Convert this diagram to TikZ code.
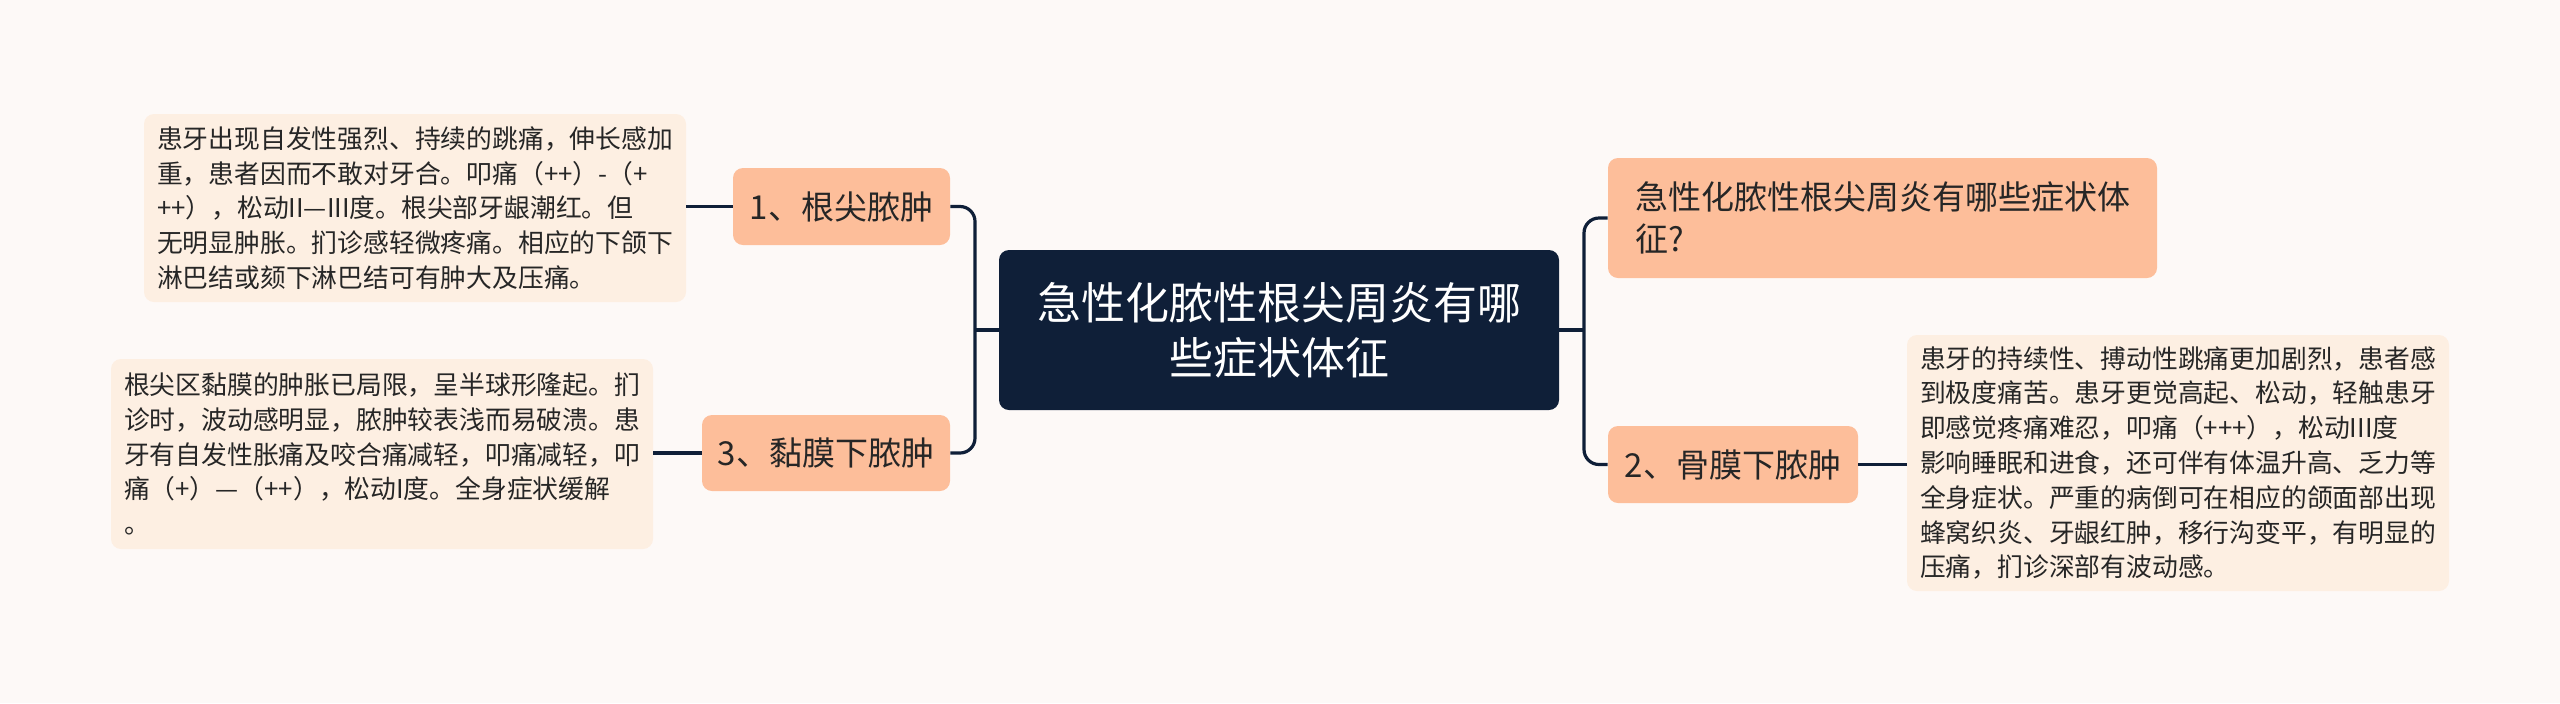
\documentclass[tikz,border=0pt]{standalone}
\usepackage{fontspec}
\setmainfont{Noto Sans CJK SC}
\definecolor{bg}{HTML}{FDF9F7}
\definecolor{navy}{HTML}{0F1F38}
\definecolor{peach}{HTML}{FDBE9A}
\definecolor{leaf}{HTML}{FDEFE2}
\definecolor{txt}{HTML}{262626}
\begin{document}
\begin{tikzpicture}[x=0.5pt,y=-0.5pt,
  rootbox/.style={fill=navy, rounded corners=5pt, text=white, align=center, inner sep=0pt,
    font=\fontsize{22}{27.5}\selectfont},
  branchbox/.style={fill=peach, rounded corners=5pt, text=txt, align=center, inner sep=0pt,
    font=\fontsize{16.5}{21}\selectfont},
  leafbox/.style={fill=leaf, rounded corners=5pt, text=txt, align=left, inner sep=0pt,
    font=\fontsize{12.9}{17.4}\selectfont},
  link/.style={draw=navy, line width=1.6pt},
  elbowlink/.style={link, rounded corners=7.5pt}]
\useasboundingbox (0,0) rectangle (2560,703);
\fill[bg] (0,0) rectangle (2560,703);

\node[rootbox, minimum width=280pt, minimum height=80pt] (root) at (1279,330)
  {急性化脓性根尖周炎有哪\\些症状体征};

\node[branchbox, minimum width=108.5pt, minimum height=38.5pt] (n1) at (841.5,206.5) {1、根尖脓肿};
\node[branchbox, minimum width=124pt, minimum height=38pt] (n3) at (826,453) {3、黏膜下脓肿};
\node[branchbox, align=left, minimum width=274.5pt, minimum height=60pt] (q) at (1882.5,218)
  {急性化脓性根尖周炎有哪些症状体\\征?};
\node[branchbox, minimum width=125pt, minimum height=38.5pt] (n2) at (1733,464.5) {2、骨膜下脓肿};

\node[leafbox, minimum width=271pt, minimum height=94pt] (l1) at (415,208)
  {患牙出现自发性强烈、持续的跳痛，伸长感加\\
   重，患者因而不敢对牙合。叩痛（++）-（+\\
   ++），松动II—III度。根尖部牙龈潮红。但\\
   无明显肿胀。扪诊感轻微疼痛。相应的下颌下\\
   淋巴结或颏下淋巴结可有肿大及压痛。};
\node[leafbox, minimum width=271pt, minimum height=95pt] (l3) at (382,454)
  {根尖区黏膜的肿胀已局限，呈半球形隆起。扪\\
   诊时，波动感明显，脓肿较表浅而易破溃。患\\
   牙有自发性胀痛及咬合痛减轻，叩痛减轻，叩\\
   痛（+）—（++），松动I度。全身症状缓解\\
   。};
\node[leafbox, minimum width=271pt, minimum height=128pt] (l2) at (2178,463)
  {患牙的持续性、搏动性跳痛更加剧烈，患者感\\
   到极度痛苦。患牙更觉高起、松动，轻触患牙\\
   即感觉疼痛难忍，叩痛（+++），松动III度\\
   影响睡眠和进食，还可伴有体温升高、乏力等\\
   全身症状。严重的病倒可在相应的颌面部出现\\
   蜂窝织炎、牙龈红肿，移行沟变平，有明显的\\
   压痛，扪诊深部有波动感。};

\coordinate (jl) at (975,330);
\coordinate (jr) at (1584,330);
\draw[link] (root.west) -- (jl);
\draw[elbowlink] (n1.east) -| (jl) |- (n3.east);
\draw[link] (root.east) -- (jr);
\draw[elbowlink] (q.west) -| (jr) |- (n2.west);
\draw[link] (n1.west) -- (n1.west -| l1.east);
\draw[link] (n3.west) -- (n3.west -| l3.east);
\draw[link] (n2.east) -- (n2.east -| l2.west);
\end{tikzpicture}
\end{document}
